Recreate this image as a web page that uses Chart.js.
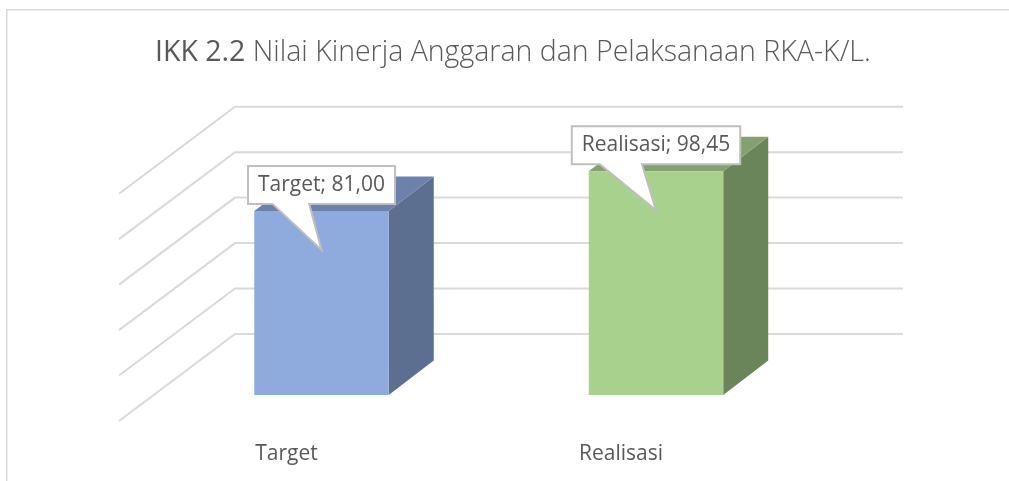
<!DOCTYPE html>
<html><head><meta charset="utf-8">
<style>html,body{margin:0;padding:0;background:#fff}canvas{display:block}</style>
<script src="https://cdn.jsdelivr.net/npm/chart.js@4"></script>
</head><body>
<canvas id="c" width="1009" height="481"></canvas>
<script>
const categories = ["Target", "Realisasi"];
const values = [81.00, 98.45];
const valueLabels = ["81,00", "98,45"];
const titleBold = "IKK 2.2";
const titleLight = " Nilai Kinerja Anggaran dan Pelaksanaan RKA-K/L.";
const frontColors = ["#8faadc", "#a9d18e"];
const sideColors = ["#5d6f91", "#6b855b"];
const topColors = ["#6c82ab", "#83a270"];
const FONT = '"Open Sans"';
const depth = {dx: 45, dy: -34.5};

const scene = {
  id: 'scene',
  beforeDraw(chart) {
    const c = chart.ctx;
    c.save();
    c.fillStyle = '#fff'; c.fillRect(0,0,chart.width,chart.height);
    c.strokeStyle = '#d9d9d9'; c.lineWidth = 1.5;
    c.beginPath(); c.moveTo(6.75,chart.height+2); c.lineTo(6.75,9.75); c.lineTo(chart.width+2,9.75); c.stroke();
    // title in two weights
    c.fillStyle = '#595959'; c.textBaseline = 'alphabetic';
    c.font = `400 28.5px ${FONT}`;
    const w1 = c.measureText(titleBold).width;
    c.fillText(titleBold, 155, 61);
    c.font = `300 28.5px ${FONT}`;
    c.fillText(titleLight, 155 + w1, 61);
    // walls
    const y = chart.scales.y;
    c.strokeStyle = '#d9d9d9'; c.lineWidth = 2;
    y.ticks.forEach(t => {
      const p = y.getPixelForValue(t.value);
      c.beginPath();
      c.moveTo(119, p + 26);
      c.lineTo(235, p - 61);
      c.lineTo(903, p - 61);
      c.stroke();
    });
    c.restore();
  },
  beforeDatasetsDraw(chart) {
    const c = chart.ctx;
    chart.getDatasetMeta(0).data.forEach((b, i) => {
      const l = b.x - b.width/2, r = b.x + b.width/2, t = b.y, bt = b.base;
      c.fillStyle = sideColors[i];
      c.beginPath(); c.moveTo(r,t); c.lineTo(r+depth.dx,t+depth.dy); c.lineTo(r+depth.dx,bt+depth.dy); c.lineTo(r,bt); c.closePath(); c.fill();
      c.fillStyle = topColors[i];
      c.beginPath(); c.moveTo(l,t); c.lineTo(l+depth.dx,t+depth.dy); c.lineTo(r+depth.dx,t+depth.dy); c.lineTo(r,t); c.closePath(); c.fill();
    });
  },
  afterDatasetsDraw(chart) {
    const c = chart.ctx;
    chart.getDatasetMeta(0).data.forEach((b, i) => {
      const text = categories[i] + '; ' + valueLabels[i];
      c.save();
      c.font = `400 21px ${FONT}`;
      const w = c.measureText(text).width + 20, h = 38;
      const x0 = b.x - w/2, x1 = b.x + w/2, yb = b.y - 7, y0 = yb - h;
      const tipY = b.y + 39;
      c.beginPath();
      c.moveTo(x0,y0); c.lineTo(x1,y0); c.lineTo(x1,yb);
      c.lineTo(x0 + w*5/12, yb); c.lineTo(b.x, tipY); c.lineTo(x0 + w/6, yb);
      c.lineTo(x0,yb); c.closePath();
      c.fillStyle = '#fff'; c.fill();
      c.strokeStyle = '#bfbfbf'; c.lineWidth = 2; c.stroke();
      c.fillStyle = '#595959'; c.textAlign='center'; c.textBaseline='middle';
      c.fillText(text, b.x, y0 + h/2);
      c.restore();
    });
  }
};

new Chart(document.getElementById('c'), {
  type: 'bar',
  data: { labels: categories, datasets: [{ data: values, backgroundColor: frontColors, barPercentage: 1, categoryPercentage: 0.402, borderWidth: 0 }] },
  options: {
    responsive: false, animation: false, events: [],
    layout: { padding: { left: 154.25, right: 185.75, top: 167.7, bottom: 0 } },
    plugins: { legend: {display:false}, tooltip: {enabled:false}, title: {display:false} },
    scales: {
      x: { grid:{display:false}, border:{display:false},
           afterFit(s){ s.height = 86; },
           ticks:{ color:'#595959', font:{family:FONT,size:21}, padding:38, labelOffset:-35, maxRotation:0 } },
      y: { display:true, min:0, max:100, position:'left',
           afterFit(s){ s.width = 0; },
           grid:{display:false}, border:{display:false},
           ticks:{ display:false, stepSize:20 } }
    }
  },
  plugins: [scene]
});
</script>
</body></html>
